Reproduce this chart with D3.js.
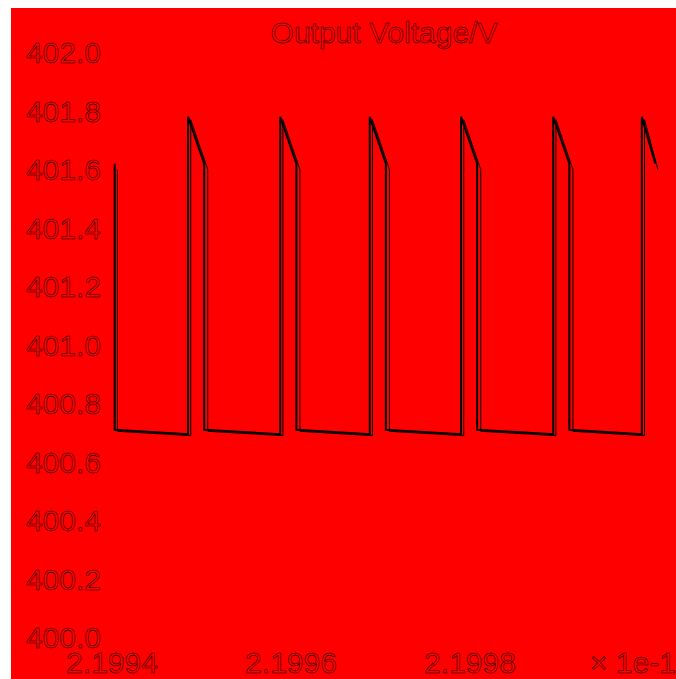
<!DOCTYPE html>
<html>
<head>
<meta charset="utf-8">
<script src="https://cdn.jsdelivr.net/npm/d3@7"></script>
<style>
  html, body { margin: 0; padding: 0; background: #ffffff; }
  svg { display: block; }
  text { font-family: "Liberation Sans", Arial, sans-serif; }
</style>
</head>
<body>
<svg id="chart" width="676" height="679"></svg>
<script>
// Output voltage waveform (time axis in units of 1e-1 s)
const title = "Output Voltage/V";
const xTicks = [2.1994, 2.1996, 2.1998];
const yTicks = [400.0, 400.2, 400.4, 400.6, 400.8, 401.0, 401.2, 401.4, 401.6, 401.8, 402.0];
const xOffsetLabel = "\u00d7 1e-1";

// main trace: [time, volts]
const traceA = [
  [2.199403, 401.62], [2.199403, 400.710], [2.199485, 400.695], [2.199485, 401.78],
  [2.199503, 401.62], [2.199503, 400.710], [2.199588, 400.695], [2.199588, 401.78],
  [2.199606, 401.62], [2.199606, 400.710], [2.199688, 400.695], [2.199688, 401.78],
  [2.199706, 401.62], [2.199706, 400.710], [2.199790, 400.695], [2.199790, 401.78],
  [2.199808, 401.62], [2.199808, 400.710], [2.199893, 400.695], [2.199893, 401.78],
  [2.199911, 401.62], [2.199911, 400.710], [2.199992, 400.695], [2.199992, 401.78],
  [2.200007, 401.62]
];
// overlapping trace, slightly lagging
const traceB = [
  [2.199406, 401.60], [2.199406, 400.705], [2.199488, 400.690], [2.199488, 401.77],
  [2.199507, 401.60], [2.199507, 400.705], [2.199591, 400.690], [2.199591, 401.77],
  [2.199610, 401.60], [2.199610, 400.705], [2.199691, 400.690], [2.199691, 401.77],
  [2.199710, 401.60], [2.199710, 400.705], [2.199793, 400.690], [2.199793, 401.77],
  [2.199812, 401.60], [2.199812, 400.705], [2.199896, 400.690], [2.199896, 401.77],
  [2.199915, 401.60], [2.199915, 400.705], [2.199995, 400.690], [2.199995, 401.77],
  [2.200010, 401.60]
];

const svg = d3.select("#chart");

// red canvas
svg.append("rect")
  .attr("x", 11).attr("y", 8)
  .attr("width", 665).attr("height", 671)
  .attr("fill", "#ff0000");

const x = d3.scaleLinear().domain([2.1994, 2.1998]).range([112, 470]);
const y = d3.scaleLinear().domain([400.0, 402.0]).range([637.5, 52.5]);

// hollow, outlined lettering
const outlineText = sel => sel
  .attr("font-size", 30)
  .attr("fill", "#ff0000")
  .attr("stroke", "#000")
  .attr("stroke-width", 0.55);

// title
svg.append("text")
  .attr("x", 384).attr("y", 43)
  .attr("text-anchor", "middle")
  .text(title)
  .call(outlineText);

// y tick labels
svg.append("g").selectAll("text")
  .data(yTicks).join("text")
  .attr("x", 101)
  .attr("y", d => y(d))
  .attr("dy", "0.36em")
  .attr("text-anchor", "end")
  .text(d => d3.format(".1f")(d))
  .call(outlineText);

// x tick labels
svg.append("g").selectAll("text")
  .data(xTicks).join("text")
  .attr("x", d => x(d))
  .attr("y", 673)
  .attr("text-anchor", "middle")
  .text(d => d3.format(".4f")(d))
  .call(outlineText);

svg.append("text")
  .attr("x", 590).attr("y", 673)
  .attr("text-anchor", "start")
  .text(xOffsetLabel)
  .call(outlineText);

// waveform traces
const line = d3.line().x(d => x(d[0])).y(d => y(d[1]));

svg.append("path")
  .datum(traceB)
  .attr("d", line)
  .attr("fill", "none")
  .attr("stroke", "#000")
  .attr("stroke-width", 1);

svg.append("path")
  .datum(traceA)
  .attr("d", line)
  .attr("fill", "none")
  .attr("stroke", "#000")
  .attr("stroke-width", 2);
</script>
</body>
</html>
